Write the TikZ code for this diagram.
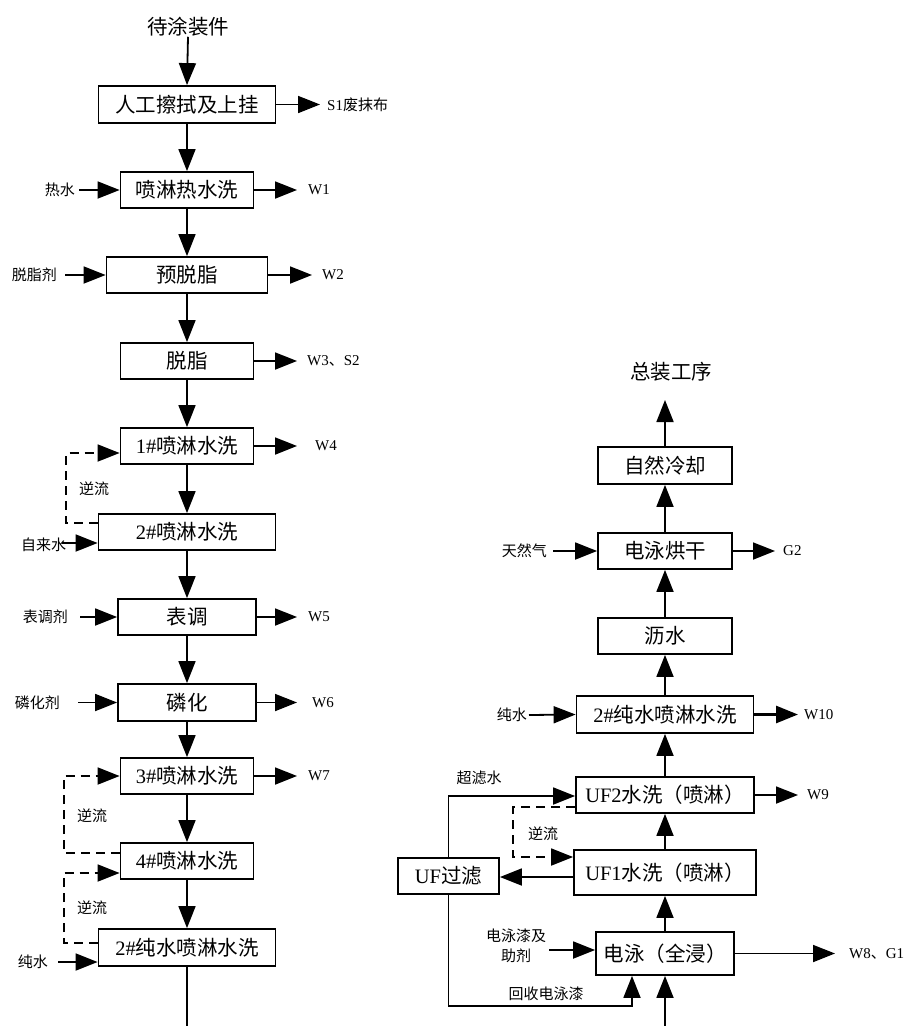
\documentclass[tikz,border=0pt]{standalone}
\usepackage{fontspec}
\setmainfont{Liberation Serif}
\newfontfamily\cjk{Noto Sans CJK SC}
\usetikzlibrary{arrows.meta}
\begin{document}
\begin{tikzpicture}[x=1pt,y=-1pt,
  box/.style={draw, line width=1.8pt, inner sep=0pt, minimum height=36pt, font=\fontsize{20.5}{24}\selectfont\cjk},
  big/.style={inner sep=0pt, font=\fontsize{20.5}{24}\selectfont\cjk},
  lab/.style={inner sep=0pt, font=\fontsize{15}{20}\selectfont\cjk},
  wlab/.style={inner sep=0pt, font=\fontsize{15}{20}\selectfont},
  flow/.style={line width=1.8pt, -{Triangle[length=22pt,width=17pt]}},
  back/.style={flow, dash pattern=on 9pt off 6pt},
  plain/.style={line width=1.8pt},
]
\useasboundingbox (0,0) rectangle (904,1026);
\fill[white] (0,0) rectangle (904,1026);

% ---------- left column ----------
\node[big] (top) at (188,27) {待涂装件};
\node[box, minimum width=177pt, minimum height=37pt] (b1) at (187,104.5) {人工擦拭及上挂};
\node[box, minimum width=133pt] (b2) at (187,190) {喷淋热水洗};
\node[box, minimum width=161pt] (b3) at (187,275) {预脱脂};
\node[box, minimum width=133pt] (b4) at (187,361) {脱脂};
\node[box, minimum width=133pt] (b5) at (187,446) {\rmfamily 1\#\cjk 喷淋水洗};
\node[box, minimum width=177pt] (b6) at (187,532) {\rmfamily 2\#\cjk 喷淋水洗};
\node[box, minimum width=138pt] (b7) at (187,617) {表调};
\node[box, minimum width=138pt, minimum height=37pt] (b8) at (187,702.5) {磷化};
\node[box, minimum width=133pt] (b9) at (187,776) {\rmfamily 3\#\cjk 喷淋水洗};
\node[box, minimum width=133pt] (b10) at (187,861) {\rmfamily 4\#\cjk 喷淋水洗};
\node[box, minimum width=177pt, minimum height=37pt] (b11) at (187,947.5) {\rmfamily 2\#\cjk 纯水喷淋水洗};

\draw[flow] (top.south) -- (b1.north);
\draw[flow] (b1.south) -- (b2.north);
\draw[flow] (b2.south) -- (b3.north);
\draw[flow] (b3.south) -- (b4.north);
\draw[flow] (b4.south) -- (b5.north);
\draw[flow] (b5.south) -- (b6.north);
\draw[flow] (b6.south) -- (b7.north);
\draw[flow] (b7.south) -- (b8.north);
\draw[flow] (b8.south) -- (b9.north);
\draw[flow] (b9.south) -- (b10.north);
\draw[flow] (b10.south) -- (b11.north);
\coordinate (lout) at (187,1026);
\draw[plain] (b11.south) -- (lout);

% left inputs
\node[lab, anchor=east] (l1) at (75,190) {热水};
\draw[flow] ([xshift=4pt]l1.east) -- (b2.west);
\node[lab, anchor=east] (l2) at (57,275) {脱脂剂};
\draw[flow] ([xshift=8pt]l2.east) -- (b3.west);
\node[lab, anchor=west] (l3) at (21,545) {自来水};
\draw[flow] ([xshift=-4pt,yshift=2pt]l3.east) -- ([yshift=-11pt]b6.west);
\node[lab, anchor=east] (l4) at (68,617) {表调剂};
\draw[flow] ([xshift=12pt]l4.east) -- (b7.west);
\node[lab, anchor=east] (l5) at (60,702.5) {磷化剂};
\draw[flow] ([xshift=18pt]l5.east) -- (b8.west);
\node[lab, anchor=east] (l6) at (48,962) {纯水};
\draw[flow] ([xshift=10pt]l6.east) -- ([yshift=-14.5pt]b11.west);

% left outputs
\node[lab, anchor=west] (s1) at (327,104.5) {\rmfamily S1\cjk 废抹布};
\draw[flow] (b1.east) -- ([xshift=-7pt]s1.west);
\node[wlab, anchor=west] (w1) at (308,190) {W1};
\draw[flow] (b2.east) -- ([xshift=-11pt]w1.west);
\node[wlab, anchor=west] (w2) at (322,275) {W2};
\draw[flow] (b3.east) -- ([xshift=-10pt]w2.west);
\node[wlab, anchor=west] (w3) at (307,361) {W3{\cjk 、}S2};
\draw[flow] (b4.east) -- ([xshift=-10pt]w3.west);
\node[wlab, anchor=west] (w4) at (315,446) {W4};
\draw[flow] (b5.east) -- ([xshift=-18pt]w4.west);
\node[wlab, anchor=west] (w5) at (308,617) {W5};
\draw[flow] (b7.east) -- ([xshift=-11pt]w5.west);
\node[wlab, anchor=west] (w6) at (312,702.5) {W6};
\draw[flow] (b8.east) -- ([xshift=-15pt]w6.west);
\node[wlab, anchor=west] (w7) at (308,776) {W7};
\draw[flow] (b9.east) -- ([xshift=-11pt]w7.west);

% counter-flow (left)
\draw[back] ([yshift=9pt]b6.west) -| ([xshift=-53.5pt,yshift=-7pt]b5.west) -- ([yshift=-7pt]b5.west);
\node[lab] (n1) at (94,489) {逆流};
\draw[back] ([yshift=8pt]b10.west) -| ([xshift=-56pt]b9.west) -- (b9.west);
\node[lab] (n2) at (92,816) {逆流};
\draw[back] ([yshift=4.5pt]b11.west) -| ([xshift=-56pt,yshift=-12pt]b10.west) -- ([yshift=-12pt]b10.west);
\node[lab] (n3) at (92,908) {逆流};

% ---------- right column ----------
\node[big] (fin) at (671,372) {总装工序};
\coordinate (endtop) at (665,400);
\node[box, minimum width=134pt, minimum height=37pt] (r1) at (665,465.5) {自然冷却};
\node[box, minimum width=134pt] (r2) at (665,551) {电泳烘干};
\node[box, minimum width=134pt] (r3) at (665,636) {沥水};
\node[box, minimum width=177pt, minimum height=37pt] (r4) at (665,714.5) {\rmfamily 2\#\cjk 纯水喷淋水洗};
\node[box, minimum width=178pt] (r5) at (665,795) {\rmfamily UF2\cjk 水洗（喷淋）};
\node[box, minimum width=182pt, minimum height=45pt] (r6) at (665,872.5) {\rmfamily UF1\cjk 水洗（喷淋）};
\node[box, minimum width=138pt, minimum height=43pt] (r7) at (665,953.5) {电泳（全浸）};
\node[box, minimum width=101pt] (uf) at (448.5,876) {\rmfamily UF\cjk 过滤};

\draw[flow] (r1.north) -- (endtop);
\draw[flow] (r2.north) -- (r1.south);
\draw[flow] (r3.north) -- (r2.south);
\draw[flow] (r4.north) -- (r3.south);
\draw[flow] (r5.north) -- (r4.south);
\draw[flow] (r6.north) -- (r5.south);
\draw[flow] (r7.north) -- (r6.south);
\coordinate (rin) at (665,1026);
\draw[flow] (rin) -- (r7.south);

% right inputs / outputs
\node[lab, anchor=east] (l7) at (547,551) {天然气};
\draw[flow] ([xshift=6pt]l7.east) -- (r2.west);
\node[wlab, anchor=west] (g2) at (783,551) {G2};
\draw[flow] (r2.east) -- ([xshift=-8pt]g2.west);
\node[lab, anchor=east] (l8) at (527,715) {纯水};
\draw[flow] ([xshift=2pt]l8.east) -- (r4.west);
\node[wlab, anchor=west] (w10) at (804,714.5) {W10};
\draw[flow, line width=2.8pt] (r4.east) -- ([xshift=-6pt]w10.west);
\node[wlab, anchor=west] (w9) at (807,795) {W9};
\draw[flow] (r5.east) -- ([xshift=-9pt]w9.west);
\node[lab, align=center] (l9) at (516,946) {电泳漆及\\助剂};
\draw[flow] ([xshift=3pt,yshift=-4pt]l9.east) -- ([yshift=3.5pt]r7.west);
\node[wlab, anchor=west] (w8) at (849,953.5) {W8{\cjk 、}G1};
\draw[flow] (r7.east) -- ([xshift=-14pt]w8.west);

% UF loop
\draw[flow] ([yshift=-4.5pt]r6.west) -- ([yshift=-1pt]uf.east);
\draw[flow] (uf.north) |- ([yshift=-1pt]r5.west);
\node[lab] (n4) at (479,778) {超滤水};
\draw[back] ([yshift=-12pt]r5.west) -| ([xshift=-60pt,yshift=15.5pt]r6.west) -- ([yshift=15.5pt]r6.west);
\node[lab] (n5) at (543,834) {逆流};
\draw[flow] (uf.south) -- ++(0,111) -| ([xshift=-33pt]r7.south);
\node[lab] (n6) at (546,994) {回收电泳漆};
\end{tikzpicture}
\end{document}
